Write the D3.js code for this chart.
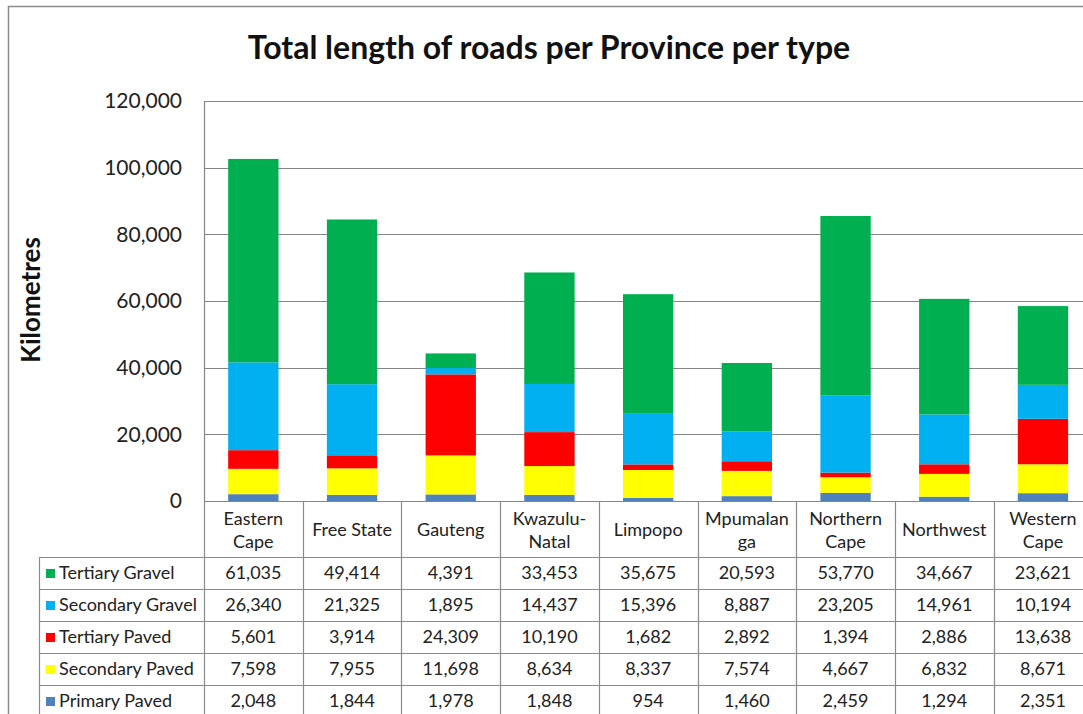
<!DOCTYPE html>
<html>
<head>
<meta charset="utf-8">
<script src="https://cdn.jsdelivr.net/npm/d3@7/dist/d3.min.js"></script>
<style>
  html, body { margin: 0; padding: 0; background: #fff; overflow: hidden; }
  svg { display: block; font-family: Lato, "Open Sans", sans-serif; }
</style>
</head>
<body>
<svg id="chart" width="1083" height="714"></svg>
<script>
// Provinces (column labels, line-wrapped as in the data table header)
const provinces = ["Eastern Cape", "Free State", "Gauteng", "Kwazulu-Natal", "Limpopo",
                   "Mpumalanga", "Northern Cape", "Northwest", "Western Cape"];
const provinceLines = [["Eastern", "Cape"], ["Free State"], ["Gauteng"], ["Kwazulu-", "Natal"],
                       ["Limpopo"], ["Mpumalan", "ga"], ["Northern", "Cape"], ["Northwest"], ["Western", "Cape"]];

// Road lengths in kilometres, one array per road type
const tertiaryGravel  = [61035, 49414, 4391, 33453, 35675, 20593, 53770, 34667, 23621];
const secondaryGravel = [26340, 21325, 1895, 14437, 15396, 8887, 23205, 14961, 10194];
const tertiaryPaved   = [5601, 3914, 24309, 10190, 1682, 2892, 1394, 2886, 13638];
const secondaryPaved  = [7598, 7955, 11698, 8634, 8337, 7574, 4667, 6832, 8671];
const primaryPaved    = [2048, 1844, 1978, 1848, 954, 1460, 2459, 1294, 2351];

// Series names, bottom of the stack first
const seriesNames = ["Primary Paved", "Secondary Paved", "Tertiary Paved", "Secondary Gravel", "Tertiary Gravel"];
const seriesValues = [primaryPaved, secondaryPaved, tertiaryPaved, secondaryGravel, tertiaryGravel];
const seriesColors = ["#4F81BD", "#FFFF00", "#FF0000", "#00B0F0", "#00B050"];

// Y axis ticks
const yTicks = [0, 20000, 40000, 60000, 80000, 100000, 120000];

const svg = d3.select("#chart");

const plotLeft = 204, plotTop = 101, plotBottom = 501, colStep = 98.7;
const plotRight = plotLeft + colStep * provinces.length;

const x = d3.scaleBand().domain(provinces).range([plotLeft, plotRight]).padding(0);
const y = d3.scaleLinear().domain([0, 120000]).range([plotBottom, plotTop]);
const fmt = d3.format(",");

// Outer chart frame
svg.append("rect")
  .attr("x", 8.5).attr("y", 6.5).attr("width", 1200).attr("height", 800)
  .attr("fill", "#fff").attr("stroke", "#8c8c8c").attr("stroke-width", 1.5);

// Title
svg.append("text")
  .attr("x", 549).attr("y", 59)
  .attr("text-anchor", "middle")
  .attr("font-size", 32).attr("font-weight", "bold").attr("fill", "#111")
  .text("Total length of roads per Province per type");

// Y axis title
svg.append("text")
  .attr("transform", "translate(40,300) rotate(-90)")
  .attr("text-anchor", "middle")
  .attr("font-size", 26).attr("font-weight", "bold").attr("fill", "#111")
  .text("Kilometres");

// Gridlines
svg.append("g")
  .selectAll("line").data(yTicks).join("line")
  .attr("x1", plotLeft).attr("x2", plotRight)
  .attr("y1", d => Math.round(y(d)) + 0.5).attr("y2", d => Math.round(y(d)) + 0.5)
  .attr("stroke", "#868686").attr("stroke-width", 1.2);

// Y axis (labels only, via d3.axisLeft)
const yAxis = svg.append("g")
  .attr("transform", `translate(${plotLeft},0)`)
  .call(d3.axisLeft(y).tickValues(yTicks).tickFormat(fmt).tickSize(0).tickPadding(22));
yAxis.select(".domain").remove();
yAxis.selectAll("text")
  .attr("font-family", "Lato, 'Open Sans', sans-serif")
  .attr("font-size", 21).attr("fill", "#222");

// Stacked bars
const rows = provinces.map((p, i) => {
  const r = { province: p };
  seriesNames.forEach((s, k) => { r[s] = seriesValues[k][i]; });
  return r;
});
const stacked = d3.stack().keys(seriesNames)(rows);
const barW = x.bandwidth() * 0.51;

svg.append("g")
  .selectAll("g").data(stacked).join("g")
  .attr("fill", (d, k) => seriesColors[k])
  .selectAll("rect").data(d => d).join("rect")
  .attr("x", d => x(d.data.province) + (x.bandwidth() - barW) / 2)
  .attr("width", barW)
  .attr("y", d => y(d[1]))
  .attr("height", d => y(d[0]) - y(d[1]));

// Vertical axis line
svg.append("line")
  .attr("x1", plotLeft + 0.5).attr("x2", plotLeft + 0.5)
  .attr("y1", plotTop).attr("y2", plotBottom)
  .attr("stroke", "#868686").attr("stroke-width", 1.2);

// Data table
const tableLeft = 39;
const headerBottom = 557;
const rowH = 32;
const tableRows = [tertiaryGravel, secondaryGravel, tertiaryPaved, secondaryPaved, primaryPaved];
const tableNames = ["Tertiary Gravel", "Secondary Gravel", "Tertiary Paved", "Secondary Paved", "Primary Paved"];
const tableColors = ["#00B050", "#00B0F0", "#FF0000", "#FFFF00", "#4F81BD"];
const tableBottom = headerBottom + rowH * tableRows.length;
const lineColor = "#8a8a8a";

const grid = svg.append("g").attr("stroke", lineColor).attr("stroke-width", 1.2);
// column separators (header + body)
d3.range(provinces.length + 1).forEach(i => {
  const xx = Math.round(plotLeft + i * colStep) + 0.5;
  grid.append("line").attr("x1", xx).attr("x2", xx).attr("y1", plotBottom).attr("y2", tableBottom + 10);
});
// left edge of legend column
grid.append("line").attr("x1", tableLeft + 0.5).attr("x2", tableLeft + 0.5)
  .attr("y1", headerBottom).attr("y2", tableBottom + 10);
// row separators
d3.range(tableRows.length + 1).forEach(r => {
  const yy = headerBottom + r * rowH + 0.5;
  grid.append("line").attr("x1", tableLeft).attr("x2", plotRight).attr("y1", yy).attr("y2", yy);
});

// header labels
const header = svg.append("g").attr("font-size", 18).attr("fill", "#222").attr("text-anchor", "middle");
provinces.forEach((p, i) => {
  const cx = x(p) + x.bandwidth() / 2;
  const lines = provinceLines[i];
  const t = header.append("text").attr("x", cx);
  if (lines.length === 1) {
    t.attr("y", 536).text(lines[0]);
  } else {
    t.append("tspan").attr("x", cx).attr("y", 525).text(lines[0]);
    t.append("tspan").attr("x", cx).attr("y", 548).text(lines[1]);
  }
});

// body rows
const body = svg.append("g").attr("font-size", 18).attr("fill", "#222");
tableRows.forEach((vals, r) => {
  const cy = headerBottom + r * rowH + rowH / 2;
  body.append("rect")
    .attr("x", 46).attr("y", cy - 4).attr("width", 9).attr("height", 9)
    .attr("fill", tableColors[r]);
  body.append("text")
    .attr("x", 59).attr("y", cy + 6)
    .text(tableNames[r]);
  vals.forEach((v, i) => {
    body.append("text")
      .attr("x", x(provinces[i]) + x.bandwidth() / 2).attr("y", cy + 6)
      .attr("text-anchor", "middle")
      .text(fmt(v));
  });
});
</script>
</body>
</html>
